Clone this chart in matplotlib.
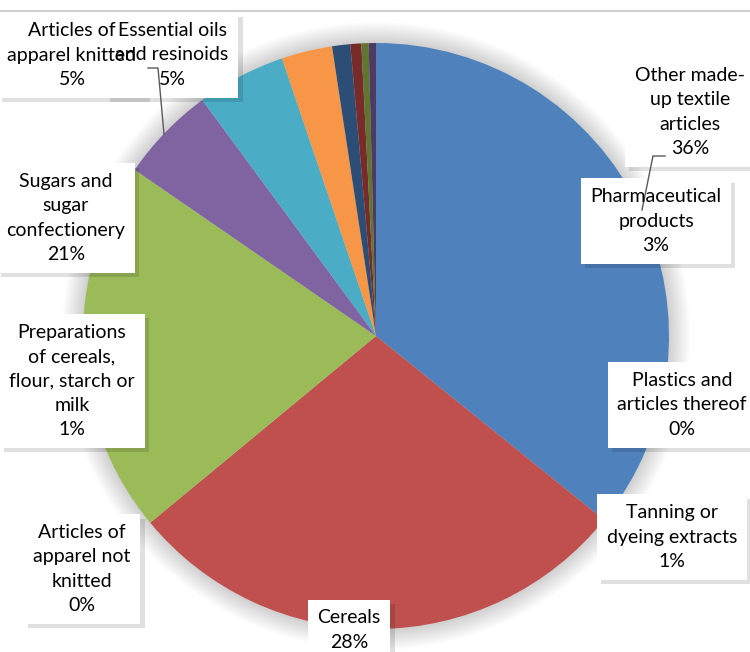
import numpy as np
import matplotlib
matplotlib.use("Agg")
import matplotlib.pyplot as plt
import matplotlib.patheffects as pe
from matplotlib.patches import Circle

# data (clockwise from 12 o'clock)
categories = ["Other made-up textile articles", "Cereals", "Sugars and sugar confectionery",
              "Articles of apparel knitted", "Essential oils and resinoids",
              "Pharmaceutical products", "Preparations of cereals, flour, starch or milk",
              "Tanning or dyeing extracts", "Plastics and articles thereof",
              "Articles of apparel not knitted"]
values = [35.8, 28.2, 20.6, 5.3, 4.9, 2.8, 1.0, 0.6, 0.4, 0.4]
label_text = ["Other made-\nup textile\narticles", "Cereals", "Sugars and\nsugar\nconfectionery",
              "Articles of\napparel knitted", "Essential oils\nand resinoids",
              "Pharmaceutical\nproducts", "Preparations\nof cereals,\nflour, starch or\nmilk",
              "Tanning or\ndyeing extracts", "Plastics and\narticles thereof",
              "Articles of\napparel not\nknitted"]
colors = ["#4F81BD", "#C0504D", "#9BBB59", "#8064A2", "#4BACC6",
          "#F79646", "#2C4D75", "#772C2A", "#5F7530", "#4D3B62"]

# layout (pixel coords, y down)
W, H = 750, 652
cx, cy, R = 376, 336, 293
label_pos = [(690, 112), (349, 630), (66, 218), (72, 55), (172, 55),
             (656, 221), (72, 381), (672, 537), (682, 405), (82, 569)]
leaders = [[(148, 68), (158, 68), (164, 134)],
           [(665, 156), (653, 156), (642, 210)]]

plt.rcParams['font.family'] = ['Lato', 'DejaVu Sans']
fig = plt.figure(figsize=(7.5, 6.52), dpi=100)
ax = fig.add_axes([0, 0, 1, 1])

# soft shadow round the pie
for k in range(12):
    ax.add_patch(Circle((cx, H - cy), R + 1 + k * 1.8, color='black',
                        alpha=0.014, lw=0, zorder=0))

ax.pie(values, colors=colors, startangle=90, counterclock=False,
       center=(cx, H - cy), radius=R, frame=True,
       wedgeprops=dict(linewidth=0, zorder=1))
ax.set_xlim(0, W)
ax.set_ylim(0, H)
ax.axis('off')

# top border line
ax.plot([0, W], [H - 11, H - 11], color='#d0d0d0', lw=1.5, zorder=2)

total = sum(values)
fs = 14
ls = 1.52
for name, v, (px, py) in zip(label_text, values, label_pos):
    s = f"{name}\n{v / total * 100:.0f}%"
    t = ax.text(px, H - py, s, ha='center', va='center', fontsize=fs,
                color='none', linespacing=ls, zorder=4,
                bbox=dict(boxstyle='square,pad=0.5', fc='white', ec='none'))
    t.get_bbox_patch().set_path_effects(
        [pe.SimplePatchShadow(offset=(3, -3), shadow_rgbFace='#000000', alpha=0.12),
         pe.Normal()])
    ax.text(px, H - py, s, ha='center', va='center', fontsize=fs,
            color='black', linespacing=ls, zorder=6)

# leader lines sit over the label boxes
for pts in leaders:
    xs = [p[0] for p in pts]
    ys = [H - p[1] for p in pts]
    ax.plot(xs, ys, color='#595959', lw=1, zorder=5)

fig.savefig("out.png", dpi=100)
